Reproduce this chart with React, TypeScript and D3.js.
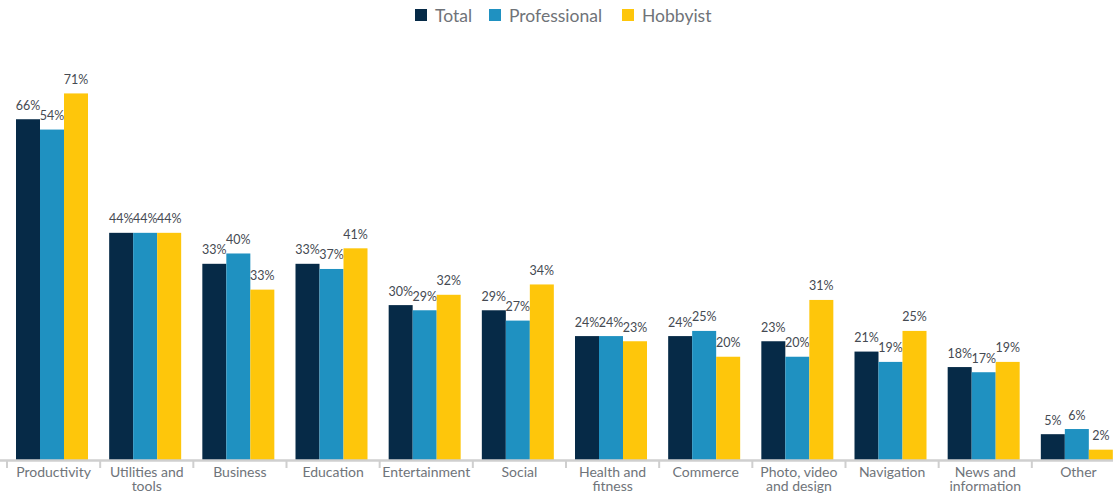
import * as d3 from "d3";
import {useEffect, useRef} from "react";

const categories = [
    ["Productivity"],
    ["Utilities and", "tools"],
    ["Business"],
    ["Education"],
    ["Entertainment"],
    ["Social"],
    ["Health and", "fitness"],
    ["Commerce"],
    ["Photo, video", "and design"],
    ["Navigation"],
    ["News and", "information"],
    ["Other"],
];

const seriesNames = ["Total", "Professional", "Hobbyist"];
const seriesColors = ["#062a47", "#1f91c1", "#fec60b"];

// bar heights as drawn
const totalValues = [66, 44, 38, 38, 30, 29, 24, 24, 23, 21, 18, 5];
const professionalValues = [64, 44, 40, 37, 29, 27, 24, 25, 20, 19, 17, 6];
const hobbyistValues = [71, 44, 33, 41, 32, 34, 23, 20, 31, 25, 19, 2];

// printed labels
const totalLabels = ["66%", "44%", "33%", "33%", "30%", "29%", "24%", "24%", "23%", "21%", "18%", "5%"];
const professionalLabels = ["54%", "44%", "40%", "37%", "29%", "27%", "24%", "25%", "20%", "19%", "17%", "6%"];
const hobbyistLabels = ["71%", "44%", "33%", "41%", "32%", "34%", "23%", "20%", "31%", "25%", "19%", "2%"];

const App = () => {
    const svgRef = useRef(null);
    const width = 1113;
    const height = 494;

    useEffect(() => {
        if (!svgRef.current) return;
        const svg = d3.select(svgRef.current);
        svg.selectAll("*").remove();

        const font = "Lato, 'Open Sans', sans-serif";
        const values = [totalValues, professionalValues, hobbyistValues];
        const labels = [totalLabels, professionalLabels, hobbyistLabels];

        // category slots, ticks sit on slot edges
        const x0 = d3
            .scaleBand<number>()
            .domain(d3.range(categories.length))
            .range([7, 1125])
            .padding(0);

        const x1 = d3
            .scaleBand<number>()
            .domain(d3.range(seriesNames.length))
            .range([9, 81])
            .padding(0);

        const y = d3
            .scaleLinear()
            .domain([0, 100])
            .range([460, 460 - 516.3]);

        const groups = svg
            .selectAll(".cat")
            .data(categories)
            .enter()
            .append("g")
            .attr("class", "cat")
            .attr("transform", (_, i) => `translate(${x0(i)},0)`);

        seriesNames.forEach((_, s) => {
            groups
                .append("rect")
                .attr("x", x1(s)!)
                .attr("width", x1.bandwidth())
                .attr("y", (_, i) => y(values[s][i]))
                .attr("height", (_, i) => y(0) - y(values[s][i]))
                .attr("fill", seriesColors[s]);

            groups
                .append("text")
                .attr("x", x1(s)! + x1.bandwidth() / 2)
                .attr("y", (_, i) => y(values[s][i]) - 9.5)
                .attr("text-anchor", "middle")
                .attr("font-family", font)
                .attr("font-size", 12.5)
                .attr("fill", "#454a52")
                .text((_, i) => labels[s][i]);
        });

        // x axis
        const axis = svg.append("g");
        axis
            .append("line")
            .attr("x1", 0)
            .attr("x2", width)
            .attr("y1", 460.5)
            .attr("y2", 460.5)
            .attr("stroke", "#cfcfcf")
            .attr("stroke-width", 2.5);

        axis
            .selectAll(".tick")
            .data(d3.range(categories.length + 1))
            .enter()
            .append("line")
            .attr("class", "tick")
            .attr("x1", i => 7 + i * x0.step())
            .attr("x2", i => 7 + i * x0.step())
            .attr("y1", 460)
            .attr("y2", 468)
            .attr("stroke", "#cfcfcf")
            .attr("stroke-width", 2);

        const tickText = axis
            .selectAll(".lbl")
            .data(categories)
            .enter()
            .append("text")
            .attr("class", "lbl")
            .attr("text-anchor", "middle")
            .attr("font-family", font)
            .attr("font-size", 14)
            .attr("fill", "#6f747a");

        tickText
            .selectAll("tspan")
            .data((d, i) => d.map(line => ({line, i})))
            .enter()
            .append("tspan")
            .attr("x", d => x0(d.i)! + x0.bandwidth() / 2)
            .attr("y", (_, j) => 477 + j * 13.5)
            .text(d => d.line);

        // legend
        const legendX = [415, 489, 622];
        const legend = svg
            .selectAll(".legend")
            .data(seriesNames)
            .enter()
            .append("g")
            .attr("class", "legend")
            .attr("transform", (_, i) => `translate(${legendX[i]},0)`);

        legend
            .append("rect")
            .attr("x", 0)
            .attr("y", 9)
            .attr("width", 12)
            .attr("height", 12)
            .attr("fill", (_, i) => seriesColors[i]);

        legend
            .append("text")
            .attr("x", 20)
            .attr("y", 21.5)
            .attr("font-family", font)
            .attr("font-size", 17.5)
            .attr("fill", "#6f7378")
            .text(d => d);
    }, []);

    return (
        <svg
            ref={svgRef}
            width={width}
            height={height}
            style={{position: "absolute", left: 0, top: 0, overflow: "hidden"}}
        ></svg>
    );
};

export default App;
